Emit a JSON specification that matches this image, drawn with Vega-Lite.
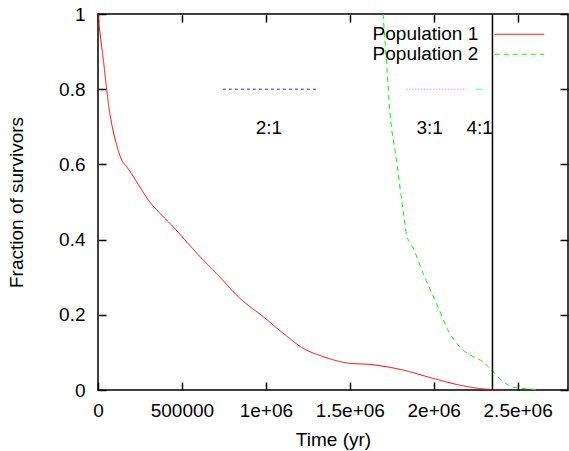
{
  "$schema": "https://vega.github.io/schema/vega-lite/v6.json",
  "width": 470,
  "height": 376,
  "autosize": {"type": "none"},
  "padding": {"left": 98, "top": 14, "right": 1, "bottom": 61},
  "config": {
    "font": "Liberation Sans",
    "view": {"stroke": "black", "strokeWidth": 1.5},
    "axis": {"labelFont": "Liberation Sans", "titleFont": "Liberation Sans", "labelColor": "black", "titleColor": "black", "labelFontSize": 19, "titleFontSize": 19, "titleFontWeight": "normal", "grid": false, "domain": false, "tickColor": "black", "tickWidth": 1.5, "tickSize": -8},
    "legend": {"title": null, "orient": "none", "legendX": 412, "legendY": 10.75, "symbolType": "M-9,0H9", "symbolSize": 30.25, "symbolStrokeWidth": 1, "labelAlign": "right", "labelOffset": -50.75, "labelFontSize": 19, "labelFont": "Liberation Sans", "labelColor": "black", "rowPadding": -4, "padding": 0}
  },
  "layer": [
    {
      "data": {"values": [
        {"series": "Population 1", "t": 0, "f": 1.0},
        {"series": "Population 1", "t": 12000, "f": 0.949},
        {"series": "Population 1", "t": 32000, "f": 0.878},
        {"series": "Population 1", "t": 52000, "f": 0.798},
        {"series": "Population 1", "t": 67000, "f": 0.745},
        {"series": "Population 1", "t": 81000, "f": 0.709},
        {"series": "Population 1", "t": 111000, "f": 0.652},
        {"series": "Population 1", "t": 141000, "f": 0.612},
        {"series": "Population 1", "t": 171000, "f": 0.594},
        {"series": "Population 1", "t": 230000, "f": 0.554},
        {"series": "Population 1", "t": 300000, "f": 0.505},
        {"series": "Population 1", "t": 369000, "f": 0.47},
        {"series": "Population 1", "t": 448000, "f": 0.434},
        {"series": "Population 1", "t": 528000, "f": 0.394},
        {"series": "Population 1", "t": 607000, "f": 0.355},
        {"series": "Population 1", "t": 706000, "f": 0.31},
        {"series": "Population 1", "t": 845000, "f": 0.244},
        {"series": "Population 1", "t": 984000, "f": 0.195},
        {"series": "Population 1", "t": 1103000, "f": 0.151},
        {"series": "Population 1", "t": 1222000, "f": 0.111},
        {"series": "Population 1", "t": 1341000, "f": 0.089},
        {"series": "Population 1", "t": 1500000, "f": 0.071},
        {"series": "Population 1", "t": 1619000, "f": 0.068},
        {"series": "Population 1", "t": 1798000, "f": 0.055},
        {"series": "Population 1", "t": 1996000, "f": 0.031},
        {"series": "Population 1", "t": 2155000, "f": 0.013},
        {"series": "Population 1", "t": 2293000, "f": 0.003},
        {"series": "Population 1", "t": 2420000, "f": 0.0},
        {"series": "Population 2", "t": 1698000, "f": 1.0},
        {"series": "Population 2", "t": 1718000, "f": 0.878},
        {"series": "Population 2", "t": 1738000, "f": 0.745},
        {"series": "Population 2", "t": 1778000, "f": 0.612},
        {"series": "Population 2", "t": 1817000, "f": 0.479},
        {"series": "Population 2", "t": 1840000, "f": 0.41},
        {"series": "Population 2", "t": 1877000, "f": 0.378},
        {"series": "Population 2", "t": 1937000, "f": 0.31},
        {"series": "Population 2", "t": 2016000, "f": 0.231},
        {"series": "Population 2", "t": 2095000, "f": 0.151},
        {"series": "Population 2", "t": 2155000, "f": 0.115},
        {"series": "Population 2", "t": 2234000, "f": 0.089},
        {"series": "Population 2", "t": 2294000, "f": 0.075},
        {"series": "Population 2", "t": 2353000, "f": 0.049},
        {"series": "Population 2", "t": 2413000, "f": 0.022},
        {"series": "Population 2", "t": 2490000, "f": 0.006},
        {"series": "Population 2", "t": 2590000, "f": 0.002},
        {"series": "Population 2", "t": 2620000, "f": 0.0}
      ]},
      "mark": {"type": "line", "strokeWidth": 1, "interpolate": "monotone"},
      "encoding": {
        "x": {"field": "t", "type": "quantitative", "scale": {"domain": [0, 2800000], "nice": false, "zero": false},
          "axis": {"orient": "bottom", "title": "Time (yr)", "values": [0, 500000, 1000000, 1500000, 2000000, 2500000],
            "labelExpr": "datum.value < 1000000 ? format(datum.value, 'd') : format(datum.value / 1000000, '~g') + 'e+06'",
            "labelPadding": 19.5, "titlePadding": 10, "labelFlush": false}},
        "y": {"field": "f", "type": "quantitative", "scale": {"domain": [0, 1], "nice": false},
          "axis": {"orient": "left", "title": "Fraction of survivors", "values": [0, 0.2, 0.4, 0.6, 0.8, 1], "format": "~g", "labelPadding": 21, "titlePadding": 32, "labelFlush": false}},
        "color": {"field": "series", "type": "nominal",
          "scale": {"domain": ["Population 1", "Population 2"], "range": ["#ff0000", "#00ff00"]}},
        "strokeDash": {"field": "series", "type": "nominal",
          "scale": {"domain": ["Population 1", "Population 2"], "range": [[1, 0], [5, 4]]}}
      }
    },
    {
      "data": {"values": [
        {"ratio": "2:1", "t0": 744000, "t1": 1304000, "f": 0.8},
        {"ratio": "3:1", "t0": 1837000, "t1": 2185000, "f": 0.8},
        {"ratio": "4:1", "t0": 2250000, "t1": 2293000, "f": 0.8}
      ]},
      "mark": {"type": "rule", "strokeWidth": 1},
      "encoding": {
        "x": {"field": "t0", "type": "quantitative", "axis": null},
        "x2": {"field": "t1"},
        "y": {"field": "f", "type": "quantitative", "axis": null},
        "color": {"field": "ratio", "type": "nominal", "scale": {"domain": ["2:1", "3:1", "4:1"], "range": ["#2a2aff", "#ff44ff", "#33ffff"]}, "legend": null},
        "strokeDash": {"field": "ratio", "type": "nominal", "scale": {"domain": ["2:1", "3:1", "4:1"], "range": [[3, 3], [1, 2], [7, 4]]}, "legend": null}
      }
    },
    {
      "data": {"values": [
        {"label": "2:1", "t": 1018000, "f": 0.697},
        {"label": "3:1", "t": 1976000, "f": 0.697},
        {"label": "4:1", "t": 2274000, "f": 0.697}
      ]},
      "mark": {"type": "text", "fontSize": 19, "font": "Liberation Sans", "color": "black", "align": "center", "baseline": "middle"},
      "encoding": {
        "x": {"field": "t", "type": "quantitative", "axis": null},
        "y": {"field": "f", "type": "quantitative", "axis": null},
        "text": {"field": "label"}
      }
    },
    {
      "data": {"values": [{"t": 2350000}]},
      "mark": {"type": "rule", "color": "black", "strokeWidth": 1.5},
      "encoding": {
        "x": {"field": "t", "type": "quantitative", "axis": null}
      }
    },
    {
      "data": {"values": [{"t": 0, "f": 0}]},
      "mark": {"type": "point", "opacity": 0},
      "encoding": {
        "x": {"field": "t", "type": "quantitative", "axis": {"orient": "top", "title": null, "labels": false, "values": [0, 500000, 1000000, 1500000, 2000000, 2500000]}},
        "y": {"field": "f", "type": "quantitative", "axis": {"orient": "right", "title": null, "labels": false, "values": [0, 0.2, 0.4, 0.6, 0.8, 1]}}
      }
    }
  ],
  "resolve": {"scale": {"color": "independent", "strokeDash": "independent"}, "axis": {"x": "independent", "y": "independent"}}
}
